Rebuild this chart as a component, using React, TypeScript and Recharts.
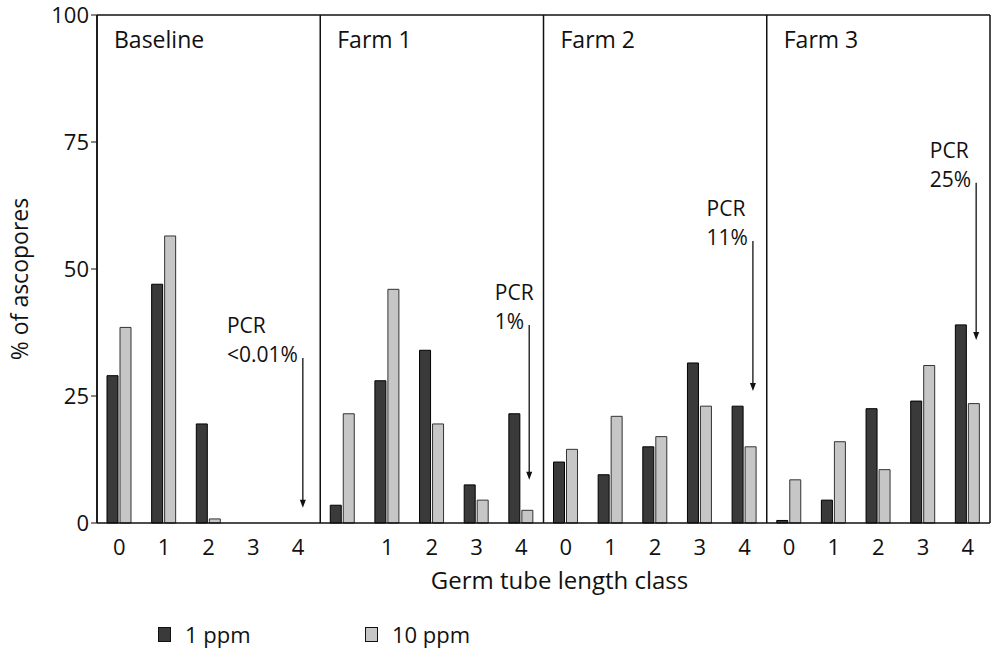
import React from 'react';
import { BarChart, Bar, XAxis, YAxis, ReferenceLine, Legend } from 'recharts';

const FONT = '"Open Sans", "DejaVu Sans", sans-serif';

// 4 panels x 5 germ tube length classes, laid out on one x axis
const panelNames = ['Baseline', 'Farm 1', 'Farm 2', 'Farm 3'];
const classLabels = [
  '0', '1', '2', '3', '4',
  '', '1', '2', '3', '4', // class 0 label is missing under Farm 1 in the original
  '0', '1', '2', '3', '4',
  '0', '1', '2', '3', '4',
];

// % of ascospores
const ppm1 = [
  29, 47, 19.5, 0, 0,
  3.5, 28, 34, 7.5, 21.5,
  12, 9.5, 15, 31.5, 23,
  0.5, 4.5, 22.5, 24, 39,
];
const ppm10 = [
  38.5, 56.5, 0.8, 0, 0,
  21.5, 46, 19.5, 4.5, 2.5,
  14.5, 21, 17, 23, 15,
  8.5, 16, 10.5, 31, 23.5,
];

// PCR result arrows, pointing at class 4 of each panel
const pcrNotes = [
  { text: '<0.01%', x: 4.11, from: 32.5, to: 3 },
  { text: '1%', x: 9.18, from: 39, to: 8.5 },
  { text: '11%', x: 14.19, from: 55.5, to: 26 },
  { text: '25%', x: 19.19, from: 67, to: 36 },
];

const data = classLabels.map((label, i) => ({
  slot: i,
  label,
  ppm1: ppm1[i],
  ppm10: ppm10[i],
}));

let ctx: CanvasRenderingContext2D | null = null;
const textWidth = (s: string, font: string) => {
  if (!ctx) ctx = document.createElement('canvas').getContext('2d');
  if (!ctx) return s.length * 11;
  ctx.font = font;
  return ctx.measureText(s).width;
};

const PcrArrow = (props: any) => {
  const { x1, y1, x2, y2, text } = props;
  const w = textWidth(text, `21px ${FONT}`);
  const left = x1 - 5 - w;
  return (
    <g>
      <line x1={x1} y1={y1} x2={x2} y2={y2 - 6} stroke="#111" strokeWidth={1.3} />
      <polygon points={`${x2 - 3},${y2 - 8} ${x2 + 3},${y2 - 8} ${x2},${y2}`} fill="#111" />
      <text x={left} y={y1 - 25} fontSize={21} fontFamily={FONT} fill="#111">PCR</text>
      <text x={left} y={y1 + 4} fontSize={21} fontFamily={FONT} fill="#111">{text}</text>
    </g>
  );
};

const YTitle = (props: any) => {
  const vb = props.viewBox;
  const cx = vb.x + 19;
  const cy = vb.y + vb.height / 2 + 10;
  return (
    <text x={cx} y={cy} transform={`rotate(-90, ${cx}, ${cy})`} textAnchor="middle"
      dominantBaseline="central" fontSize={23} fontFamily={FONT} fill="#111">
      % of ascopores
    </text>
  );
};

const XTitle = (props: any) => {
  const vb = props.viewBox;
  return (
    <text x={vb.x + vb.width / 2 + 16} y={vb.y + 66} textAnchor="middle"
      fontSize={24} fontFamily={FONT} fill="#111">
      Germ tube length class
    </text>
  );
};

const LegendContent = ({ payload }: any) => (
  <div style={{ position: 'relative', height: 60, fontFamily: FONT }}>
    {(payload || []).map((entry: any, i: number) => (
      <div key={entry.value} style={{ position: 'absolute', left: 158 + i * 207, top: 31, display: 'flex', alignItems: 'center' }}>
        <span style={{ display: 'inline-block', width: 11, height: 13, background: entry.color, border: '1px solid #111' }} />
        <span style={{ marginLeft: 14, fontSize: 22, lineHeight: '22px', color: '#111' }}>{entry.value}</span>
      </div>
    ))}
  </div>
);

export default function App() {
  return (
    <div style={{ position: 'absolute', left: 0, top: 0, width: 999, height: 652, background: '#fff', fontFamily: FONT }}>
      <BarChart width={999} height={652} data={data} margin={{ top: 15, right: 9, left: 0, bottom: 0 }}
        barSize={11} barGap={2}>
        <XAxis type="number" dataKey="slot" domain={[-0.5, 19.5]} ticks={data.map(d => d.slot)} interval={0}
          tickFormatter={(v: number) => classLabels[v] ?? ''} tickLine={false} tickSize={0} tickMargin={16}
          height={69} axisLine={{ stroke: '#111', strokeWidth: 1.5 }}
          tick={{ fontSize: 22, fill: '#111', fontFamily: FONT }} label={XTitle} />
        <YAxis type="number" domain={[0, 100]} ticks={[0, 25, 50, 75, 100]} width={97}
          axisLine={{ stroke: '#111', strokeWidth: 1.5 }} tickLine={{ stroke: '#111' }}
          tick={{ fontSize: 22, fill: '#111', fontFamily: FONT }} label={YTitle} />
        {panelNames.map((name, p) => (
          <ReferenceLine key={name} x={p * 5 - 0.5} stroke="#111" strokeWidth={1.5}
            label={{ value: name, position: 'insideTopLeft', offset: 17, fontSize: 23, fill: '#111', fontFamily: FONT }} />
        ))}
        <ReferenceLine x={19.5} stroke="#111" strokeWidth={1.5} />
        <ReferenceLine y={100} stroke="#111" strokeWidth={1.5} />
        <Bar dataKey="ppm1" name="1 ppm" fill="#3a3a3a" stroke="#000" strokeWidth={1} isAnimationActive={false} />
        <Bar dataKey="ppm10" name="10 ppm" fill="#c6c6c6" stroke="#333" strokeWidth={1} isAnimationActive={false} />
        {pcrNotes.map(n => (
          <ReferenceLine key={n.text} segment={[{ x: n.x, y: n.from }, { x: n.x, y: n.to }]}
            shape={(p: any) => <PcrArrow {...p} text={n.text} />} />
        ))}
        <Legend verticalAlign="bottom" height={60} content={LegendContent}
          wrapperStyle={{ left: 0, bottom: 0, width: 999, height: 60 }} />
      </BarChart>
    </div>
  );
}
